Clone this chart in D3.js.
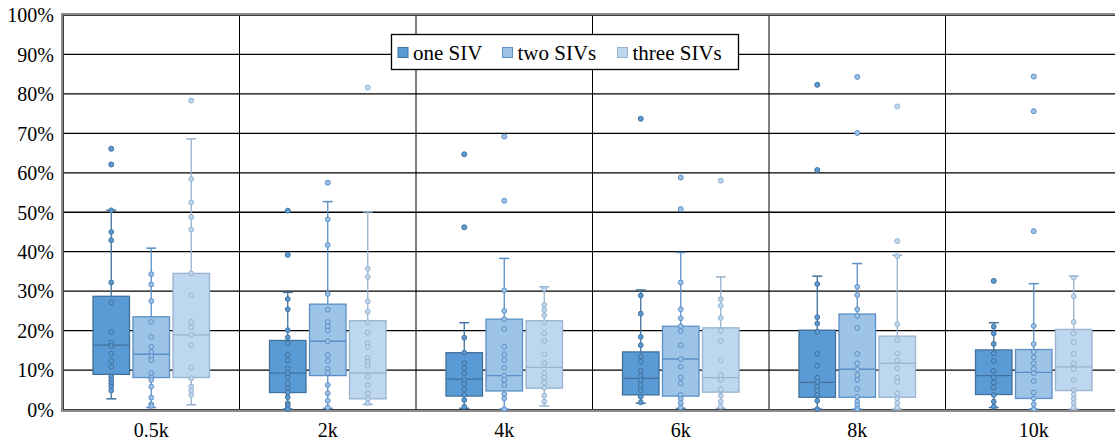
<!DOCTYPE html>
<html>
<head>
<meta charset="utf-8">
<script src="https://cdn.jsdelivr.net/npm/d3@7"></script>
<style>
  html, body { margin: 0; padding: 0; background: #ffffff; }
  svg { display: block; }
  svg text { font-family: 'Liberation Serif', 'Times New Roman', Tinos, 'DejaVu Serif', serif !important; }
</style>
</head>
<body>
<svg id="chart" width="1115" height="441"></svg>
<script>
// ---------------- DATA ----------------
const categories = ["0.5k", "2k", "4k", "6k", "8k", "10k"];
const seriesNames = ["one SIV", "two SIVs", "three SIVs"];
const yTickValues = [0, 10, 20, 30, 40, 50, 60, 70, 80, 90, 100];

// [whiskerLow, Q1, median, Q3, whiskerHigh] per category (%)
const oneSIVBox = [
  [2.7, 8.9, 16.3, 28.7, 50.5],
  [0.1, 4.3, 9.2, 17.5, 29.7],
  [0.3, 3.4, 7.7, 14.4, 22.0],
  [1.6, 3.7, 7.9, 14.6, 30.3],
  [0.1, 3.1, 6.9, 20.1, 33.8],
  [0.5, 3.8, 8.6, 15.1, 22.0]
];
const twoSIVsBox = [
  [0.5, 8.1, 14.0, 23.5, 40.9],
  [0.3, 8.6, 17.3, 26.7, 52.7],
  [0.1, 4.7, 8.6, 22.9, 38.3],
  [0.3, 3.4, 12.8, 21.1, 39.8],
  [0.1, 3.1, 10.2, 24.2, 37.0],
  [0.1, 2.8, 9.4, 15.2, 31.9]
];
const threeSIVsBox = [
  [1.2, 8.1, 18.9, 34.5, 68.6],
  [1.3, 2.7, 9.3, 22.5, 50.1],
  [0.9, 5.4, 10.7, 22.5, 31.1],
  [0.3, 4.4, 8.1, 20.7, 33.6],
  [0.1, 3.1, 11.7, 18.6, 39.1],
  [0.1, 4.8, 10.8, 20.3, 33.8]
];

// inner data points (%)
const oneSIVPoints = [
  [50.5, 45.0, 42.9, 32.2, 27.1, 19.6, 16.9, 16.1, 14.1, 12.3, 10.8, 8.3, 7.5, 6.6, 5.8, 4.8],
  [28.0, 25.4, 20.1, 18.3, 16.8, 13.8, 12.4, 10.4, 9.3, 8.1, 6.6, 5.4, 4.3, 3.1, 1.6, 0.9, 0.1],
  [18.2, 14.4, 11.7, 10.6, 9.3, 7.5, 6.5, 5.2, 3.7, 2.4, 0.7],
  [28.9, 24.3, 18.4, 16.3, 13.5, 12.1, 9.8, 8.6, 7.5, 6.2, 4.9, 3.2, 1.8],
  [31.8, 23.4, 21.8, 19.7, 14.1, 11.1, 8.1, 7.0, 5.8, 4.8, 3.7, 2.2, 0.1],
  [21.0, 19.3, 16.6, 14.2, 12.3, 9.8, 8.1, 6.8, 5.6, 3.7, 2.0, 0.7]
];
const twoSIVsPoints = [
  [34.3, 31.7, 27.5, 22.2, 18.4, 15.9, 14.6, 13.5, 12.5, 9.2, 8.1, 7.5, 5.8, 3.0, 1.3, 0.9],
  [48.2, 41.7, 29.3, 25.3, 22.2, 21.1, 20.0, 17.3, 13.8, 12.3, 10.3, 9.3, 6.2, 4.1, 2.2, 0.5],
  [30.2, 25.0, 22.9, 20.4, 15.9, 14.0, 12.5, 10.6, 8.6, 7.5, 6.2, 3.9, 2.8, 0.1],
  [32.2, 25.4, 23.1, 21.1, 19.9, 16.3, 12.8, 10.8, 8.1, 6.6, 3.7, 2.7, 1.6, 0.5],
  [31.1, 29.0, 25.4, 23.7, 20.7, 14.1, 11.7, 10.2, 8.7, 7.5, 5.2, 3.2, 2.0, 1.1, 0.1],
  [21.2, 16.6, 14.6, 13.2, 11.7, 10.3, 9.2, 7.2, 4.3, 2.8, 1.3, 0.1]
];
const threeSIVsPoints = [
  [58.4, 52.5, 48.8, 45.6, 34.5, 28.9, 22.2, 20.8, 18.9, 16.3, 10.6, 7.9, 5.8, 4.8, 3.7],
  [35.7, 33.6, 27.4, 24.8, 22.1, 19.5, 16.8, 15.9, 13.1, 12.1, 11.1, 8.3, 6.2, 4.1, 2.7, 1.6],
  [30.6, 26.5, 25.2, 23.9, 22.1, 19.3, 17.4, 14.0, 11.7, 9.2, 8.1, 6.9, 5.5, 3.5, 2.0],
  [28.0, 26.3, 23.2, 20.0, 17.4, 12.5, 8.7, 7.5, 5.1, 3.5, 2.0, 0.7],
  [38.9, 21.6, 17.6, 14.2, 12.4, 10.4, 8.1, 7.0, 4.1, 2.8, 1.6, 0.5],
  [33.4, 28.7, 22.2, 19.3, 17.1, 14.1, 11.7, 10.2, 7.5, 4.9, 3.8, 2.7, 1.6, 0.5]
];

// outliers (%)
const oneSIVOutliers = [[66.1, 62.1], [50.4, 39.2], [64.7, 46.2], [73.7], [82.3, 60.7], [32.6]];
const twoSIVsOutliers = [[], [57.5], [69.2, 52.9], [58.8, 50.8], [84.3, 70.1], [84.4, 75.6, 45.2]];
const threeSIVsOutliers = [[78.3], [81.6], [], [58.0], [76.8, 42.7], []];

// ---------------- STYLE ----------------
const fills = ["#5b9bd5", "#9dc3e6", "#bdd7ee"];
const strokes = ["#41719c", "#5b8fc7", "#98b2cf"];
const serifFont = "'Liberation Serif', 'Times New Roman', Tinos, 'DejaVu Serif', serif";

// ---------------- LAYOUT ----------------
const svg = d3.select("#chart");
const plotLeft = 63, plotRight = 1122, plotTop = 15, plotBottom = 409.5;

const x = d3.scaleBand().domain(categories).range([plotLeft, plotRight]).paddingInner(0).paddingOuter(0);
const bw = x.bandwidth();
const xSub = d3.scaleBand().domain(seriesNames)
  .range([bw / 2 - 58.25, bw / 2 + 58.25]).paddingInner(0.0875).paddingOuter(0);
const y = d3.scaleLinear().domain([0, 100]).range([plotBottom, plotTop]);

// gridlines
const grid = svg.append("g");
grid.selectAll("line.h").data(yTickValues.filter(v => v > 0 && v < 100)).join("line")
  .attr("x1", plotLeft).attr("x2", plotRight)
  .attr("y1", d => y(d)).attr("y2", d => y(d))
  .attr("stroke", "#000").attr("stroke-width", 1.3);
grid.selectAll("line.v").data(categories.slice(1)).join("line")
  .attr("x1", d => x(d)).attr("x2", d => x(d))
  .attr("y1", plotTop).attr("y2", plotBottom)
  .attr("stroke", "#000").attr("stroke-width", 1);

// plot frame (double-ish border)
svg.append("rect").attr("x", plotLeft - 0.5).attr("y", plotTop - 0.5)
  .attr("width", plotRight - plotLeft + 1).attr("height", plotBottom - plotTop + 1.5)
  .attr("fill", "none").attr("stroke", "#8c8c8c").attr("stroke-width", 3);
svg.append("rect").attr("x", plotLeft + 0.5).attr("y", plotTop + 0.5)
  .attr("width", plotRight - plotLeft - 1).attr("height", plotBottom - plotTop - 0.5)
  .attr("fill", "none").attr("stroke", "#404040").attr("stroke-width", 1);

// y axis labels
const yAxis = d3.axisLeft(y).tickValues(yTickValues).tickSize(0).tickPadding(8)
  .tickFormat(d => d + "%");
const yG = svg.append("g").attr("transform", `translate(${plotLeft},0)`).call(yAxis)
  .attr("font-family", serifFont);
yG.select(".domain").remove();
yG.selectAll("text").style("font-family", serifFont)
  .attr("font-size", 20).attr("fill", "#000").attr("dy", "0.34em").attr("x", -9);

// x axis labels
const xAxis = d3.axisBottom(x).tickSize(0).tickPadding(0);
const xG = svg.append("g").attr("transform", `translate(0,${plotBottom})`).call(xAxis)
  .attr("font-family", serifFont);
xG.select(".domain").remove();
xG.selectAll("text").style("font-family", serifFont)
  .attr("font-size", 20).attr("fill", "#000").attr("y", 27).attr("dy", 0);

// boxes
const boxes = [oneSIVBox, twoSIVsBox, threeSIVsBox];
const points = [oneSIVPoints, twoSIVsPoints, threeSIVsPoints];
const outliers = [oneSIVOutliers, twoSIVsOutliers, threeSIVsOutliers];
const boxW = xSub.bandwidth();
const capW = 10;

seriesNames.forEach((s, si) => {
  const g = svg.append("g");
  categories.forEach((c, ci) => {
    const [lo, q1, med, q3, hi] = boxes[si][ci];
    const x0 = x(c) + xSub(s);
    const cx = x0 + boxW / 2;
    const cg = g.append("g");
    // whiskers
    cg.append("line").attr("x1", cx).attr("x2", cx).attr("y1", y(hi)).attr("y2", y(q3))
      .attr("stroke", strokes[si]).attr("stroke-width", 1.3);
    cg.append("line").attr("x1", cx).attr("x2", cx).attr("y1", y(q1)).attr("y2", y(lo))
      .attr("stroke", strokes[si]).attr("stroke-width", 1.3);
    cg.append("line").attr("x1", cx - capW / 2).attr("x2", cx + capW / 2).attr("y1", y(hi)).attr("y2", y(hi))
      .attr("stroke", strokes[si]).attr("stroke-width", 1.5);
    cg.append("line").attr("x1", cx - capW / 2).attr("x2", cx + capW / 2).attr("y1", y(lo)).attr("y2", y(lo))
      .attr("stroke", strokes[si]).attr("stroke-width", 1.5);
    // box
    cg.append("rect").attr("x", x0).attr("y", y(q3)).attr("width", boxW).attr("height", y(q1) - y(q3))
      .attr("fill", fills[si]).attr("stroke", strokes[si]).attr("stroke-width", 1.3);
    cg.append("line").attr("x1", x0).attr("x2", x0 + boxW).attr("y1", y(med)).attr("y2", y(med))
      .attr("stroke", strokes[si]).attr("stroke-width", 1.3);
    // inner points
    cg.selectAll("circle.p").data(points[si][ci]).join("circle")
      .attr("cx", cx).attr("cy", d => y(d)).attr("r", 2.4)
      .attr("fill", fills[si]).attr("stroke", strokes[si]).attr("stroke-width", 1);
    // outliers
    cg.selectAll("circle.o").data(outliers[si][ci]).join("circle")
      .attr("cx", cx).attr("cy", d => y(d)).attr("r", 2.5)
      .attr("fill", fills[si]).attr("stroke", strokes[si]).attr("stroke-width", 1);
  });
});

// legend
const legend = svg.append("g").attr("font-family", serifFont);
legend.append("rect").attr("x", 391.5).attr("y", 34.5).attr("width", 347).attr("height", 35)
  .attr("fill", "#fff").attr("stroke", "#000").attr("stroke-width", 1.3);
const legendX = [398, 502.5, 617.5];
seriesNames.forEach((s, i) => {
  legend.append("rect").attr("x", legendX[i]).attr("y", 47.5).attr("width", 10).attr("height", 10)
    .attr("fill", fills[i]).attr("stroke", strokes[i]).attr("stroke-width", 1);
  legend.append("text").attr("x", legendX[i] + 15).attr("y", 60)
    .style("font-family", serifFont)
    .attr("font-size", 21).attr("fill", "#000").text(s);
});
</script>
</body>
</html>
